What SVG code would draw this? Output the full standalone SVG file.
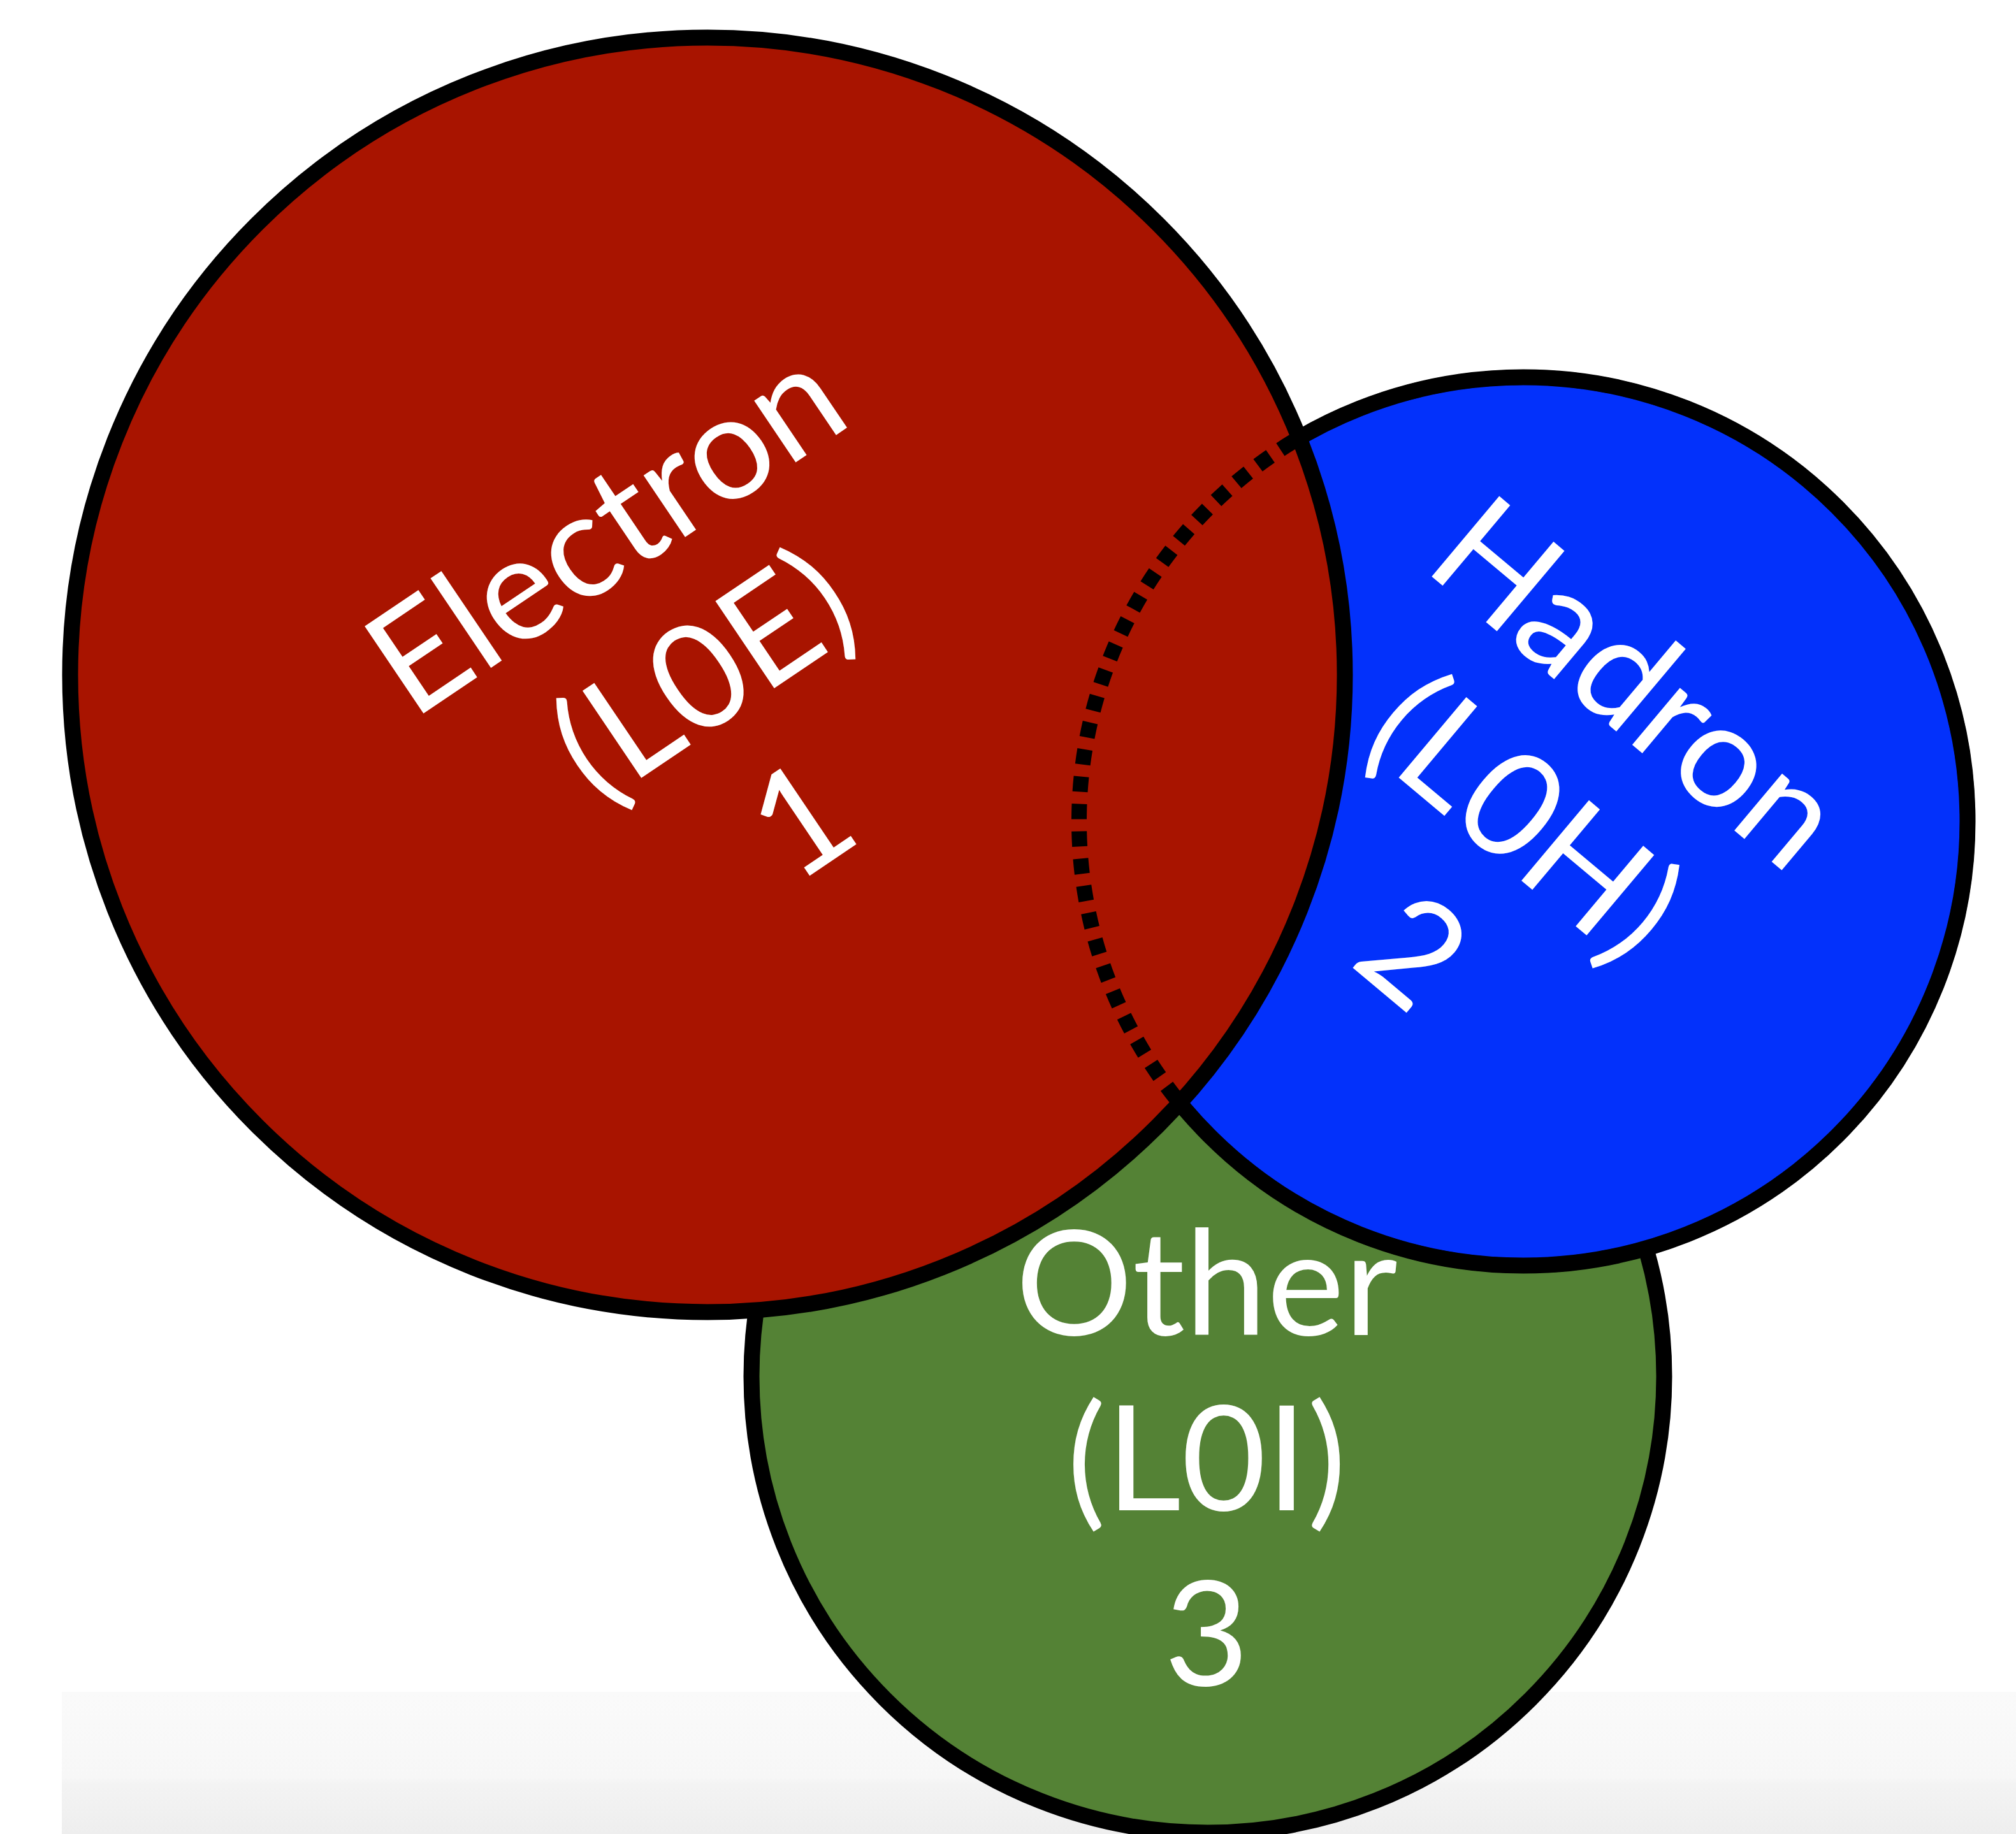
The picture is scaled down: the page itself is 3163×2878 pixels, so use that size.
<svg xmlns="http://www.w3.org/2000/svg" width="3163" height="2878" viewBox="0 0 3163 2878">
<defs>
<linearGradient id="bandGrad" x1="0" y1="0" x2="0" y2="1">
<stop offset="0" stop-color="#fafafa"/>
<stop offset="0.6" stop-color="#f7f7f7"/>
<stop offset="0.65" stop-color="#f3f3f3"/>
<stop offset="1" stop-color="#eeeeee"/>
</linearGradient>
</defs>
<style>
.ring{stroke:#000;stroke-width:25}
.lbl{font-family:Lato,"Open Sans","Liberation Sans",sans-serif;font-weight:400;font-size:230px;fill:#fff;text-anchor:middle}
</style>
<rect x="0" y="0" width="3163" height="2878" fill="#fff"/>
<g id="band">
<rect x="97" y="2655" width="3066" height="223" fill="url(#bandGrad)"/>
</g>
<g id="other">
<circle class="ring" cx="1895" cy="2160" r="716" fill="#548235"/>
</g>
<g id="hadron">
<circle class="ring" cx="2390" cy="1289" r="697" fill="#0331fb"/>
</g>
<g id="electron">
<circle class="ring" cx="1110" cy="1059" r="1000" fill="#a81400"/>
</g>
<g id="connectors">
<circle cx="2390" cy="1289" r="697" fill="none" stroke="#000" stroke-width="24" stroke-dasharray="24 19"/>
</g>
<g id="electron-label" transform="translate(1148 1125) rotate(-34)">
<text class="lbl" x="0" y="-275">Electron</text>
<text class="lbl" x="0" y="0">(L0E)</text>
<text class="lbl" x="0" y="275">1</text>
</g>
<g id="hadron-label" transform="translate(2342 1344) rotate(40)">
<text class="lbl" x="0" y="-275">Hadron</text>
<text class="lbl" x="0" y="0">(L0H)</text>
<text class="lbl" x="0" y="275">2</text>
</g>
<g id="other-label">
<text class="lbl" x="1893" y="2095">Other</text>
<text class="lbl" x="1893" y="2370">(L0I)</text>
<text class="lbl" x="1893" y="2645">3</text>
</g>
</svg>
